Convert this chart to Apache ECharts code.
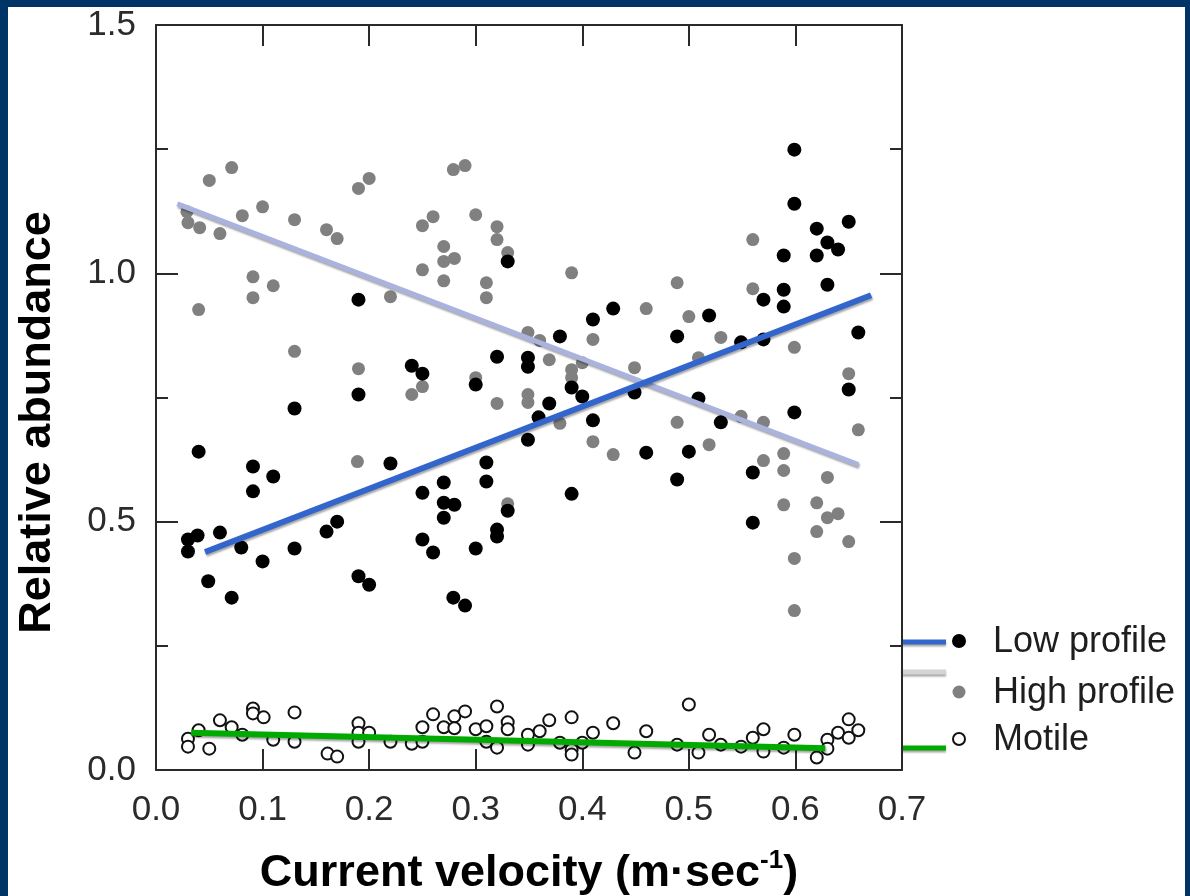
<!DOCTYPE html>
<html>
<head>
<meta charset="utf-8">
<script src="https://cdn.jsdelivr.net/npm/echarts@6/dist/echarts.min.js"></script>
<style>
  html, body { margin: 0; padding: 0; background: #003366; }
  #main { width: 1190px; height: 896px; }
</style>
</head>
<body>
<div id="main"></div>
<script>
var lowProfile = [
    [0.030, 0.464], [0.039, 0.472], [0.030, 0.440], [0.040, 0.641], [0.060, 0.478],
    [0.049, 0.380], [0.071, 0.347], [0.091, 0.611], [0.110, 0.591], [0.091, 0.561],
    [0.080, 0.448], [0.100, 0.420], [0.130, 0.728], [0.130, 0.446], [0.160, 0.480],
    [0.170, 0.500], [0.190, 0.390], [0.200, 0.373], [0.220, 0.617], [0.250, 0.558],
    [0.270, 0.579], [0.270, 0.538], [0.280, 0.534], [0.270, 0.508], [0.250, 0.464],
    [0.260, 0.438], [0.279, 0.347], [0.290, 0.331], [0.310, 0.619], [0.310, 0.581],
    [0.300, 0.446], [0.320, 0.484], [0.320, 0.470], [0.190, 0.947], [0.240, 0.814],
    [0.250, 0.798], [0.320, 0.832], [0.300, 0.776], [0.190, 0.756], [0.599, 1.249],
    [0.599, 1.140], [0.650, 1.104], [0.620, 1.090], [0.630, 1.062], [0.640, 1.048],
    [0.589, 1.036], [0.620, 1.036], [0.630, 0.977], [0.589, 0.967], [0.570, 0.947],
    [0.589, 0.933], [0.659, 0.881], [0.519, 0.915], [0.489, 0.873], [0.549, 0.861],
    [0.570, 0.867], [0.429, 0.929], [0.410, 0.907], [0.379, 0.873], [0.330, 1.024],
    [0.349, 0.830], [0.349, 0.812], [0.390, 0.770], [0.400, 0.752], [0.369, 0.738],
    [0.359, 0.710], [0.449, 0.760], [0.509, 0.748], [0.410, 0.704], [0.349, 0.665],
    [0.530, 0.700], [0.599, 0.720], [0.650, 0.766], [0.460, 0.639], [0.500, 0.641],
    [0.330, 0.522], [0.390, 0.556], [0.489, 0.585], [0.560, 0.599], [0.560, 0.498]
];

var highProfile = [
    [0.050, 1.187], [0.071, 1.213], [0.029, 1.124], [0.030, 1.102], [0.041, 1.092],
    [0.060, 1.080], [0.081, 1.116], [0.100, 1.134], [0.130, 1.108], [0.160, 1.088],
    [0.170, 1.070], [0.190, 1.171], [0.200, 1.191], [0.091, 0.993], [0.110, 0.975],
    [0.091, 0.951], [0.040, 0.927], [0.130, 0.843], [0.190, 0.808], [0.220, 0.953],
    [0.240, 0.756], [0.250, 0.772], [0.250, 1.096], [0.260, 1.114], [0.279, 1.209],
    [0.290, 1.217], [0.300, 1.118], [0.320, 1.094], [0.320, 1.068], [0.250, 1.007],
    [0.270, 1.054], [0.270, 1.024], [0.280, 1.030], [0.270, 0.985], [0.310, 0.981],
    [0.310, 0.951], [0.300, 0.790], [0.320, 0.738], [0.330, 1.042], [0.390, 1.001],
    [0.489, 0.981], [0.560, 1.068], [0.560, 0.969], [0.460, 0.929], [0.500, 0.913],
    [0.530, 0.871], [0.599, 0.851], [0.349, 0.881], [0.360, 0.865], [0.369, 0.826],
    [0.390, 0.806], [0.390, 0.790], [0.400, 0.820], [0.410, 0.867], [0.449, 0.810],
    [0.349, 0.756], [0.349, 0.740], [0.379, 0.698], [0.410, 0.661], [0.489, 0.700],
    [0.509, 0.830], [0.519, 0.655], [0.549, 0.712], [0.570, 0.700], [0.650, 0.798],
    [0.659, 0.685], [0.429, 0.635], [0.570, 0.623], [0.589, 0.637], [0.589, 0.603],
    [0.630, 0.589], [0.589, 0.534], [0.620, 0.538], [0.630, 0.508], [0.640, 0.516],
    [0.620, 0.480], [0.650, 0.460], [0.599, 0.426], [0.599, 0.321], [0.330, 0.536],
    [0.189, 0.621]
];

var motile = [
    [0.030, 0.063], [0.030, 0.047], [0.040, 0.080], [0.050, 0.043], [0.060, 0.100],
    [0.071, 0.086], [0.081, 0.071], [0.091, 0.124], [0.091, 0.114], [0.101, 0.106],
    [0.110, 0.061], [0.130, 0.116], [0.130, 0.057], [0.161, 0.033], [0.170, 0.027],
    [0.190, 0.094], [0.190, 0.057], [0.190, 0.075], [0.200, 0.075], [0.220, 0.057],
    [0.240, 0.053], [0.250, 0.086], [0.250, 0.057], [0.260, 0.112], [0.270, 0.086],
    [0.280, 0.108], [0.280, 0.084], [0.290, 0.118], [0.300, 0.082], [0.310, 0.088],
    [0.310, 0.057], [0.320, 0.128], [0.320, 0.045], [0.330, 0.096], [0.330, 0.082],
    [0.349, 0.071], [0.349, 0.051], [0.360, 0.078], [0.369, 0.100], [0.390, 0.106],
    [0.379, 0.055], [0.390, 0.041], [0.390, 0.031], [0.400, 0.055], [0.410, 0.075],
    [0.429, 0.094], [0.449, 0.035], [0.460, 0.078], [0.489, 0.051], [0.500, 0.132],
    [0.509, 0.035], [0.519, 0.071], [0.530, 0.051], [0.549, 0.047], [0.560, 0.065],
    [0.570, 0.082], [0.570, 0.037], [0.589, 0.045], [0.599, 0.071], [0.620, 0.025],
    [0.630, 0.061], [0.630, 0.043], [0.640, 0.075], [0.650, 0.102], [0.650, 0.065],
    [0.659, 0.080]
];

// regression lines (end points)
var lowFit = [[0.046, 0.439], [0.671, 0.956]];
var highFit = [[0.020, 1.140], [0.659, 0.615]];
var motileFit = [[0.033, 0.075], [0.628, 0.044]];

var xTicks = [0, 0.7, 0.1];
var yTicks = [0, 1.5, 0.5];

var FONT = 'Liberation Sans, Arial, sans-serif';
var frameColor = '#2a2a2a';

var dom = document.getElementById('main');
var chart = echarts.init(dom);

function fitShadow(color, width) {
    return {
        color: color,
        width: width,
        shadowColor: 'rgba(0,0,0,0.35)',
        shadowBlur: 2,
        shadowOffsetX: 1,
        shadowOffsetY: 2
    };
}

function xAxisCfg(pos, showLabel) {
    return {
        type: 'value',
        position: pos,
        min: xTicks[0],
        max: xTicks[1],
        interval: xTicks[2],
        axisLine: { show: true, onZero: false, lineStyle: { color: frameColor, width: 2 } },
        axisTick: { show: true, inside: true, length: 21, lineStyle: { color: frameColor, width: 2 } },
        axisLabel: {
            show: showLabel,
            fontSize: 35,
            fontFamily: FONT,
            color: '#2b2b2b',
            margin: 23,
            showMinLabel: true,
            showMaxLabel: true,
            formatter: function (v) { return v.toFixed(1); }
        },
        splitLine: { show: false }
    };
}

function yAxisCfg(pos, showLabel) {
    return {
        type: 'value',
        position: pos,
        min: yTicks[0],
        max: yTicks[1],
        interval: yTicks[2],
        axisLine: { show: true, onZero: false, lineStyle: { color: frameColor, width: 2 } },
        axisTick: { show: true, inside: true, length: 22, lineStyle: { color: frameColor, width: 2 } },
        minorTick: { show: true, splitNumber: 2, length: 12, lineStyle: { color: frameColor, width: 2 } },
        axisLabel: {
            show: showLabel,
            fontSize: 35,
            fontFamily: FONT,
            color: '#2b2b2b',
            margin: 20,
            showMinLabel: true,
            showMaxLabel: true,
            formatter: function (v) { return v.toFixed(1); }
        },
        splitLine: { show: false },
        minorSplitLine: { show: false }
    };
}

var xBottom = xAxisCfg('bottom', true);
xBottom.name = '{t|Current velocity (m·sec}{s|-1}{t|)}';
xBottom.nameLocation = 'middle';
xBottom.nameGap = 78;
xBottom.nameTextStyle = {
    rich: {
        t: { fontSize: 45, fontWeight: 'bold', fontFamily: FONT, color: '#000', lineHeight: 52 },
        s: { fontSize: 26, fontWeight: 'bold', fontFamily: FONT, color: '#000', lineHeight: 26, verticalAlign: 'top' }
    }
};

var yLeft = yAxisCfg('left', true);
yLeft.name = 'Relative abundance';
yLeft.nameLocation = 'middle';
yLeft.nameGap = 96;
yLeft.nameTextStyle = {
    fontSize: 45,
    fontWeight: 'bold',
    fontFamily: FONT,
    color: '#000',
    padding: [0, 50, 0, 0]
};

option = {
    backgroundColor: 'transparent',
    animation: false,
    grid: {
        left: 156,
        right: 288,
        top: 25,
        bottom: 126,
        outerBoundsMode: 'none'
    },
    xAxis: [xBottom, xAxisCfg('top', false)],
    yAxis: [yLeft, yAxisCfg('right', false)],
    graphic: [
        // white panel inside the navy border
        { type: 'rect', z: -100, shape: { x: 8, y: 7, width: 1177, height: 889 }, style: { fill: '#ffffff' } },
        // hand-drawn legend
        { type: 'line', shape: { x1: 902, y1: 642, x2: 946, y2: 642 }, style: { stroke: '#3366cc', lineWidth: 5, shadowColor: 'rgba(0,0,0,0.35)', shadowBlur: 2, shadowOffsetY: 2 } },
        { type: 'circle', shape: { cx: 959, cy: 641, r: 7 }, style: { fill: '#000' } },
        { type: 'text', x: 993, y: 642, style: { text: 'Low profile', fontSize: 36, fontFamily: FONT, fill: '#1e1e1e', verticalAlign: 'middle' } },
        { type: 'line', shape: { x1: 902, y1: 672, x2: 946, y2: 672 }, style: { stroke: '#d4d4d4', lineWidth: 5, shadowColor: 'rgba(0,0,0,0.35)', shadowBlur: 2, shadowOffsetY: 2 } },
        { type: 'circle', shape: { cx: 959, cy: 692, r: 6.5 }, style: { fill: '#808080' } },
        { type: 'text', x: 993, y: 693, style: { text: 'High profile', fontSize: 36, fontFamily: FONT, fill: '#1e1e1e', verticalAlign: 'middle' } },
        { type: 'line', shape: { x1: 902, y1: 748, x2: 946, y2: 748 }, style: { stroke: '#00aa00', lineWidth: 5, shadowColor: 'rgba(0,0,0,0.35)', shadowBlur: 2, shadowOffsetY: 2 } },
        { type: 'circle', shape: { cx: 959, cy: 739, r: 6 }, style: { fill: '#fff', stroke: '#111', lineWidth: 2 } },
        { type: 'text', x: 993, y: 740, style: { text: 'Motile', fontSize: 36, fontFamily: FONT, fill: '#1e1e1e', verticalAlign: 'middle' } }
    ],
    series: [
        {
            name: 'High profile',
            type: 'scatter',
            data: highProfile,
            symbolSize: 13,
            itemStyle: { color: '#808080', opacity: 1 },
            z: 2
        },
        {
            name: 'Low profile',
            type: 'scatter',
            data: lowProfile,
            symbolSize: 14,
            itemStyle: { color: '#000', opacity: 1 },
            z: 3
        },
        {
            name: 'Motile',
            type: 'scatter',
            data: motile,
            symbolSize: 12,
            itemStyle: { color: '#fff', borderColor: '#111', borderWidth: 2, opacity: 1 },
            z: 4
        },
        {
            name: 'Low fit',
            type: 'line',
            data: lowFit,
            symbol: 'none',
            lineStyle: fitShadow('#3366cc', 6),
            z: 6
        },
        {
            name: 'High fit',
            type: 'line',
            data: highFit,
            symbol: 'none',
            lineStyle: fitShadow('#aab3de', 5),
            z: 5
        },
        {
            name: 'Motile fit',
            type: 'line',
            data: motileFit,
            symbol: 'none',
            lineStyle: fitShadow('#00aa00', 6),
            z: 6
        }
    ]
};

chart.setOption(option);
</script>
</body>
</html>
